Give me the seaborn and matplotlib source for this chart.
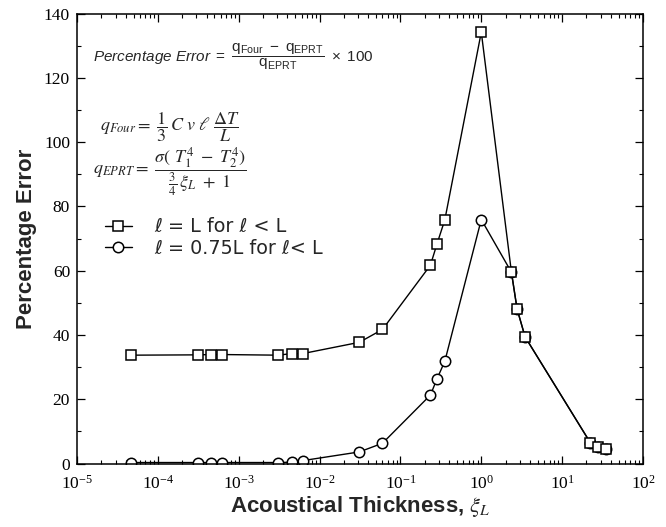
import numpy as np
import pandas as pd
import matplotlib
matplotlib.use("Agg")
import matplotlib.pyplot as plt
import seaborn as sns
from matplotlib.ticker import MultipleLocator, FixedLocator, NullFormatter, LogFormatterSciNotation

# ---- data ----
xi = [4.6e-5, 3.1e-4, 4.6e-4, 6.2e-4, 3.1e-3, 4.5e-3, 6.2e-3, 0.031, 0.060,
      0.235, 0.284, 0.354, 1.0, 2.36, 2.77, 3.48, 22.4, 27.6, 34.5]
err_l_eq_L = [33.7, 33.8, 33.9, 33.9, 33.7, 34.2, 34.2, 37.7, 41.7,
              61.7, 68.4, 75.8, 134.2, 59.5, 48.1, 39.4, 6.4, 5.2, 4.4]
err_l_075L = [0.3, 0.3, 0.3, 0.3, 0.3, 0.4, 0.9, 3.6, 6.3,
              21.3, 26.4, 31.8, 75.9, 59.5, 48.1, 39.4, 6.4, 5.2, 4.4]
label_sq = "ℓ = L for ℓ < L"
label_ci = "ℓ = 0.75L for ℓ< L"
yticks = [0, 20, 40, 60, 80, 100, 120, 140]
xdecades = [1e-5, 1e-4, 1e-3, 1e-2, 1e-1, 1e0, 1e1, 1e2]

sns.set_style("ticks")
plt.rcParams["mathtext.fontset"] = "custom"
plt.rcParams["mathtext.rm"] = "Liberation Sans"
plt.rcParams["mathtext.it"] = "Liberation Sans:italic"
plt.rcParams["mathtext.bf"] = "Liberation Sans:bold"
plt.rcParams["font.family"] = ["Liberation Sans", "DejaVu Sans"]

df_sq = pd.DataFrame({"xi": xi, "err": err_l_eq_L})
df_ci = pd.DataFrame({"xi": xi, "err": err_l_075L})

fig = plt.figure(figsize=(6.66, 5.27), dpi=100)
ax = fig.add_axes([77 / 666, 1 - 463.5 / 527, 566 / 666, 450 / 527])

common = dict(color="black", linewidth=1.0, markersize=7.5,
              markerfacecolor="white", markeredgecolor="black",
              markeredgewidth=1.1, estimator=None, sort=False, ax=ax)
sns.lineplot(data=df_ci, x="xi", y="err", marker="o", label=label_ci, **common)
sns.lineplot(data=df_sq, x="xi", y="err", marker="s", label=label_sq, **common)

ax.set_xscale("log")
ax.set_xlim(1e-5, 1e2)
ax.set_ylim(0, 140)
ax.set_yticks(yticks)
ax.yaxis.set_minor_locator(MultipleLocator(10))
ax.xaxis.set_major_locator(FixedLocator(xdecades))
ax.xaxis.set_major_formatter(LogFormatterSciNotation())
minors = [m * d for d in xdecades[:-1] for m in range(2, 10)]
ax.xaxis.set_minor_locator(FixedLocator(minors))
ax.xaxis.set_minor_formatter(NullFormatter())

for s in ax.spines.values():
    s.set_visible(True)
    s.set_linewidth(1.1)
    s.set_color("black")

ax.tick_params(which="both", direction="in", top=True, right=True,
               labelfontfamily="Liberation Serif", labelsize=12.5, colors="black")
ax.tick_params(which="major", length=6, width=0.9)
ax.tick_params(which="minor", length=3, width=0.8)
ax.tick_params(axis="y", pad=5)
ax.tick_params(axis="x", pad=8)

ax.set_ylabel("Percentage Error", fontsize=16, fontweight="bold",
              family="Liberation Sans", labelpad=5)
ax.set_xlabel("Acoustical Thickness, $\\xi_L$", fontsize=16, fontweight="bold",
              family="Liberation Sans", labelpad=1)
ax.xaxis.label.set_math_fontfamily("stix")

# formulas
ax.text(0.028, 0.905,
        r"$\mathit{Percentage\ Error}\ =\ \dfrac{\mathrm{q_{Four}\ -\ q_{EPRT}}}{\mathrm{q_{EPRT}}}\ \times\ 100$",
        transform=ax.transAxes, fontsize=11, math_fontfamily="custom",
        va="center", ha="left")
ax.text(0.040, 0.748,
        r"$q_{Four} =\ \dfrac{1}{3}\,C\ v\ \ell\ \dfrac{\mathit{\Delta T}}{L}$",
        transform=ax.transAxes, fontsize=13, math_fontfamily="stix",
        va="center", ha="left")
ax.text(0.028, 0.648,
        r"$q_{EPRT} =\ \dfrac{\sigma(\ T_1^4\ -\ T_2^4)}{\frac{3}{4}\,\xi_L\ +\ 1}$",
        transform=ax.transAxes, fontsize=13, math_fontfamily="stix",
        va="center", ha="left")

handles, labels = ax.get_legend_handles_labels()
order = [labels.index(label_sq), labels.index(label_ci)]
leg = ax.legend([handles[i] for i in order], [labels[i] for i in order],
                loc="upper left", bbox_to_anchor=(0.049, 0.547),
                frameon=False, borderpad=0, borderaxespad=0,
                handlelength=1.4, handletextpad=1.2, labelspacing=0.12,
                prop={"family": ["DejaVu Sans", "Liberation Sans"], "size": 13.8})

fig.savefig("out.png", dpi=100)
